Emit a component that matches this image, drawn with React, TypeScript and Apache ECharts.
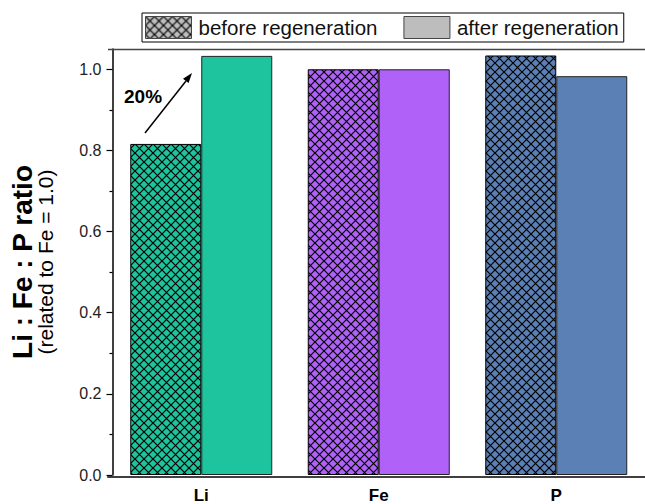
import React, { useEffect, useRef } from "react";
import * as echarts from "echarts";

const categories = ["Li", "Fe", "P"];
const beforeValues = [0.816, 1.0, 1.034];
const afterValues = [1.033, 1.0, 0.983];
const barColors = ["#1EC49E", "#B062F8", "#5B80B5"];
const seriesNames = ["before regeneration", "after regeneration"];
const yMajorTicks = [0, 0.2, 0.4, 0.6, 0.8, 1.0];
const yMinorTicks = [0.1, 0.3, 0.5, 0.7, 0.9];
const annotationText = "20%";

const FONT = "'Liberation Sans', Arial, sans-serif";
const TILE = 9;

function makeHatch(color: string) {
  const c = document.createElement("canvas");
  c.width = TILE;
  c.height = TILE;
  const g = c.getContext("2d")!;
  g.fillStyle = color;
  g.fillRect(0, 0, TILE, TILE);
  g.strokeStyle = "#000";
  g.lineWidth = 1.2;
  g.beginPath();
  g.moveTo(-1, -1);
  g.lineTo(TILE + 1, TILE + 1);
  g.moveTo(TILE + 1, -1);
  g.lineTo(-1, TILE + 1);
  g.stroke();
  return { image: c, repeat: "repeat", imageWidth: TILE, imageHeight: TILE } as any;
}

export default function App() {
  const ref = useRef<HTMLDivElement>(null);
  useEffect(() => {
    const chart = echarts.init(ref.current!, null, { renderer: "svg" });
    const L = 108, T = 49, W = 546, H = 428;
    const option: any = {
      animation: false,
      textStyle: { fontFamily: FONT },
      legend: {
        left: 142,
        top: 13,
        padding: [3, 5, 3, 3],
        itemGap: 26,
        itemWidth: 46,
        itemHeight: 22,
        borderColor: "#000",
        borderWidth: 1,
        icon: "rect",
        data: seriesNames,
        textStyle: { fontSize: 20.5, color: "#111", fontFamily: FONT, padding: [0, 0, 0, 2] },
        itemStyle: { borderColor: "#444", borderWidth: 1 },
      },
      grid: { left: L, top: T, width: W, height: H },
      xAxis: [
        {
          type: "category",
          data: categories,
          axisLine: { show: false },
          axisTick: { alignWithLabel: true, length: 7, lineStyle: { color: "#000", width: 1.5 } },
          axisLabel: { fontSize: 17, fontWeight: "bold", color: "#000", margin: 12, fontFamily: FONT },
        },
        {
          type: "category",
          data: categories,
          position: "bottom",
          axisLine: { show: false },
          axisTick: { length: 3, lineStyle: { color: "#000", width: 1.2 } },
          axisLabel: { show: false },
        },
      ],
      yAxis: [
        {
          type: "value",
          min: 0,
          max: 1.05,
          interval: 0.2,
          splitLine: { show: false },
          axisLine: { show: true, lineStyle: { color: "#000", width: 1.5 } },
          axisTick: { show: true, length: 6, customValues: yMajorTicks, lineStyle: { color: "#000", width: 1.2 } },
          axisLabel: {
            customValues: yMajorTicks,
            fontSize: 16,
            color: "#222",
            margin: 11,
            fontFamily: FONT,
            formatter: (v: number) => v.toFixed(1),
          },
          name: "{a|Li : Fe : P ratio}\n{b|(related to Fe = 1.0)}",
          nameLocation: "middle",
          nameRotate: 90,
          nameGap: 56,
          nameTextStyle: {
            rich: {
              a: { fontSize: 28, fontWeight: "bold", color: "#000", lineHeight: 25, fontFamily: FONT },
              b: { fontSize: 21, color: "#000", lineHeight: 22, fontFamily: FONT },
            },
          },
        },
        {
          type: "value",
          min: 0,
          max: 1.05,
          interval: 0.1,
          position: "left",
          splitLine: { show: false },
          axisLine: { show: false },
          axisTick: { show: true, length: 3, customValues: yMinorTicks, lineStyle: { color: "#000", width: 1.2 } },
          axisLabel: { show: false },
        },
      ],
      series: [
        {
          name: seriesNames[0],
          type: "bar",
          barGap: "0%",
          barCategoryGap: "20%",
          itemStyle: { color: makeHatch("#BDBDBD"), borderColor: "#000", borderWidth: 1 },
          emphasis: { disabled: true },
          data: beforeValues.map((v, i) => ({
            value: v,
            itemStyle: { color: makeHatch(barColors[i]), borderColor: "#000", borderWidth: 1 },
          })),
        },
        {
          name: seriesNames[1],
          type: "bar",
          barGap: "0%",
          barCategoryGap: "20%",
          itemStyle: { color: "#BDBDBD", borderColor: "#444", borderWidth: 1 },
          emphasis: { disabled: true },
          data: afterValues.map((v, i) => ({
            value: v,
            itemStyle: { color: barColors[i], borderColor: "#222", borderWidth: 1 },
          })),
        },
      ],
      graphic: [
        { type: "line", z: 100, shape: { x1: L, y1: T + 0.5, x2: 645, y2: T + 0.5 }, style: { stroke: "#444", lineWidth: 1.5 } },
        { type: "line", z: 100, shape: { x1: L - 0.75, y1: T + H, x2: 645, y2: T + H }, style: { stroke: "#000", lineWidth: 1.5 } },
        { type: "line", shape: { x1: 145, y1: 133, x2: 186, y2: 81 }, style: { stroke: "#000", lineWidth: 1.5 } },
        {
          type: "polygon",
          shape: { points: [[192, 73], [188.6, 83.0], [183.0, 78.7]] },
          style: { fill: "#000" },
        },
        {
          type: "text",
          x: 124,
          y: 96,
          style: {
            text: annotationText,
            fontSize: 19,
            fontWeight: "bold",
            fill: "#000",
            fontFamily: FONT,
            verticalAlign: "middle",
          },
        },
      ],
    };
    chart.setOption(option);
    return () => chart.dispose();
  }, []);
  return (
    <div
      ref={ref}
      style={{ position: "absolute", left: 0, top: 0, width: 645, height: 504, background: "#fff" }}
    />
  );
}
